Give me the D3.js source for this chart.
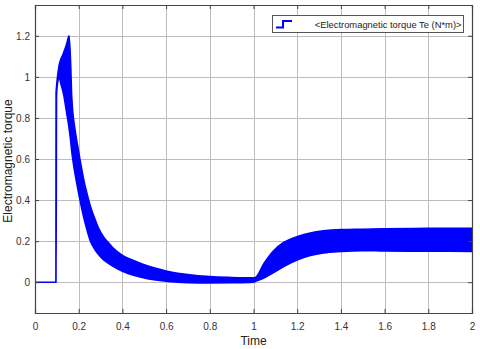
<!DOCTYPE html>
<html><head><meta charset="utf-8">
<script src="https://cdn.jsdelivr.net/npm/d3@7"></script>
<style>body{margin:0;background:#fff}svg{display:block}text{font-family:Arial,"Liberation Sans",Helvetica,sans-serif}</style>
</head><body>
<script>
// Data (band envelope of the oscillating torque)
const time  = [0, 0.096, 0.0965, 0.0985, 0.102, 0.111, 0.12, 0.13, 0.145, 0.156, 0.163, 0.168, 0.183, 0.191, 0.206, 0.229, 0.236, 0.252, 0.275, 0.29, 0.313, 0.343, 0.358, 0.4, 0.465, 0.5, 0.6, 0.7, 0.8, 0.9, 1.0, 1.007, 1.05, 1.09, 1.136, 1.205, 1.26, 1.32, 1.4, 1.5, 1.6, 1.8, 2.0];
const upper = [0, 0, 0.92, 0.95, 0.99, 1.06, 1.09, 1.115, 1.16, 1.2, 1.067, 0.905, 0.743, 0.69, 0.597, 0.47, 0.44, 0.375, 0.305, 0.265, 0.222, 0.184, 0.166, 0.13, 0.10, 0.085, 0.055, 0.037, 0.027, 0.023, 0.021, 0.022, 0.095, 0.151, 0.192, 0.224, 0.24, 0.25, 0.256, 0.258, 0.26, 0.262, 0.263];
const lower = [0, 0, 0, 0.9, 0.96, 0.994, 0.96, 0.92, 0.824, 0.75, 0.69, 0.64, 0.53, 0.483, 0.40, 0.29, 0.262, 0.205, 0.158, 0.136, 0.11, 0.087, 0.077, 0.053, 0.03, 0.021, 0.005, -0.002, -0.004, -0.003, 0.0, 0.003, 0.022, 0.046, 0.075, 0.11, 0.13, 0.143, 0.15, 0.154, 0.152, 0.151, 0.15];
const xTicks = [0, 0.2, 0.4, 0.6, 0.8, 1, 1.2, 1.4, 1.6, 1.8, 2];
const yTicks = [0, 0.2, 0.4, 0.6, 0.8, 1, 1.2];
const legendLabel = "<Electromagnetic torque Te (N*m)>";
const xLabel = "Time";
const yLabel = "Electromagnetic torque";

const W = 480, H = 349;
const L = 35, R = 472, T = 5, B = 313;
const svg = d3.select("body").append("svg").attr("width", W).attr("height", H);
const x = d3.scaleLinear().domain([0, 2]).range([L, R]);
const y = d3.scaleLinear().domain([-0.15, 1.35]).range([B, T]);

// grid
const g = svg.append("g");
g.selectAll(".gx").data(xTicks).join("line")
  .attr("x1", d => Math.round(x(d)) + 0.5).attr("x2", d => Math.round(x(d)) + 0.5)
  .attr("y1", T).attr("y2", B).attr("stroke", "#bdbdbd").attr("stroke-width", 1);
g.selectAll(".gy").data(yTicks).join("line")
  .attr("y1", d => Math.round(y(d)) + 0.5).attr("y2", d => Math.round(y(d)) + 0.5)
  .attr("x1", L).attr("x2", R).attr("stroke", "#bdbdbd").attr("stroke-width", 1);

// data band
const clip = svg.append("clipPath").attr("id", "c").append("rect")
  .attr("x", L).attr("y", T).attr("width", R - L).attr("height", B - T);
const pts = time.map((t, i) => ({t, u: upper[i], l: lower[i]}));
const area = d3.area().x(d => x(d.t)).y0(d => y(d.l)).y1(d => y(d.u)).curve(d3.curveMonotoneX);
svg.append("path").datum(pts).attr("d", area).attr("clip-path", "url(#c)")
  .attr("fill", "#0000ff").attr("stroke", "#0000ff").attr("stroke-width", 1.6).attr("stroke-linejoin", "round");

// axes (box with inward ticks)
const axCol = "#444";
const axB = svg.append("g").attr("transform", `translate(0,${B})`)
  .call(d3.axisBottom(x).tickValues(xTicks).tickSize(-4).tickPadding(10).tickFormat(d3.format("~g")));
const axT = svg.append("g").attr("transform", `translate(0,${T})`)
  .call(d3.axisTop(x).tickValues(xTicks).tickSize(-4).tickFormat(""));
const axL = svg.append("g").attr("transform", `translate(${L},0)`)
  .call(d3.axisLeft(y).tickValues(yTicks).tickSize(-4).tickPadding(5).tickFormat(d3.format("~g")));
const axR = svg.append("g").attr("transform", `translate(${R},0)`)
  .call(d3.axisRight(y).tickValues(yTicks).tickSize(-4).tickFormat(""));
[axB, axT, axL, axR].forEach(a => {
  a.select(".domain").attr("stroke", axCol);
  a.selectAll(".tick line").attr("stroke", axCol);
  a.selectAll("text").attr("fill", "#333").style("font-size", "10px");
});
svg.selectAll(".domain").attr("stroke-width", 1.2);

// labels
svg.append("text").attr("x", x(1)).attr("y", 345).attr("text-anchor", "middle")
  .attr("fill", "#222").style("font-size", "12px").text(xLabel);
svg.append("text").attr("transform", `translate(12,${(T + B) / 2 + 2}) rotate(-90)`).attr("text-anchor", "middle")
  .attr("fill", "#222").style("font-size", "12px").text(yLabel);

// legend
const lg = svg.append("g");
lg.append("rect").attr("x", 272.5).attr("y", 15.5).attr("width", 191).attr("height", 17)
  .attr("fill", "#fff").attr("stroke", "#555").attr("stroke-width", 1);
lg.append("path").attr("d", "M276,27.5 H283 V21 H292").attr("fill", "none")
  .attr("stroke", "#0000ff").attr("stroke-width", 2);
lg.append("text").attr("x", 461.5).attr("y", 27.5).attr("text-anchor", "end")
  .attr("fill", "#222").style("font-size", "9.4px").text(legendLabel);
</script>
</body></html>
